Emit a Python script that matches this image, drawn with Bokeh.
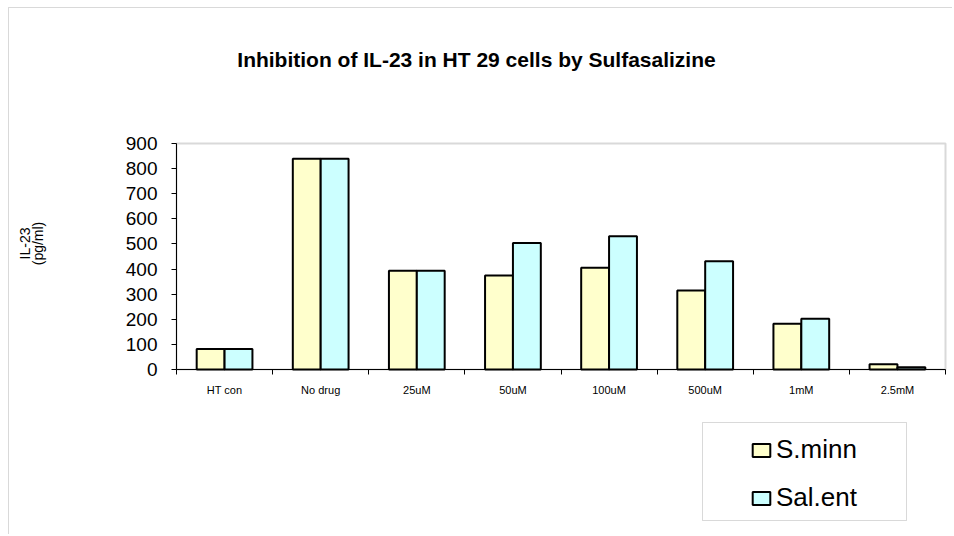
from bokeh.plotting import figure
from bokeh.models import (Range1d, FixedTicker, Legend, LegendItem,
                          Label, BoxAnnotation, ColumnDataSource)
from bokeh.transform import dodge
from bokeh.embed import file_html
from bokeh.resources import INLINE
import math

# ---- data ----
categories = ["HT con", "No drug", "25uM", "50uM", "100uM", "500uM", "1mM", "2.5mM"]
s_minn = [82, 839, 393, 374, 405, 315, 182, 21]
sal_ent = [82, 839, 393, 504, 531, 431, 202, 9]
series_names = ["S.minn", "Sal.ent"]
series_colors = ["#FFFFCC", "#CCFFFF"]
y_ticks = [0, 100, 200, 300, 400, 500, 600, 700, 800, 900]
title_text = "Inhibition of IL-23 in HT 29 cells by Sulfasalizine"
y_label_lines = ["IL-23", "(pg/ml)"]

FONT = "Liberation Sans"
n = len(categories)
y_max = 900
centers = [i + 0.5 for i in range(n)]   # category slot centres on the numeric x scale

# ---- canvas geometry (pixels) ----
W, H = 952, 534
PL, PR, PT, PB = 176, 945, 143, 369          # plot-area edges in the picture
sx = (PR - PL) / n                            # px per category slot
sy = (PB - PT) / y_max                        # px per unit
def X(px): return (px - PL) / sx
def Y(py): return (PB - py) / sy

p = figure(x_range=Range1d(X(0), X(W)), y_range=Range1d(Y(H), Y(0)),
           width=W, height=H, output_backend="svg", toolbar_location=None,
           min_border=0, border_fill_color="white", background_fill_color="white",
           outline_line_color=None)
p.grid.visible = False

# outer chart border
p.add_layout(BoxAnnotation(left=X(8), right=X(W + 20), top=Y(7), bottom=Y(H + 20),
                           fill_color=None, line_color="#808080", line_width=1, level="underlay"))
# plot-area border (grey top/right; axes cover left/bottom)
p.add_layout(BoxAnnotation(left=0, right=n, bottom=0, top=y_max,
                           fill_color=None, line_color="#808080", line_width=2, level="underlay"))

# y axis
ya = p.yaxis[0]
ya.fixed_location = 0
ya.bounds = (0, y_max)
ya.ticker = FixedTicker(ticks=y_ticks)
ya.axis_line_color = "black"
ya.major_tick_line_color = "black"
ya.major_tick_in = 0
ya.major_tick_out = 5
ya.minor_tick_line_color = None
ya.major_label_text_font = FONT
ya.major_label_text_font_size = "19px"
ya.major_label_text_color = "black"
ya.major_label_standoff = 14

# x axis: labels at slot centres, small ticks between categories
xa = p.xaxis[0]
xa.fixed_location = 0
xa.bounds = (0, n)
xa.ticker = FixedTicker(ticks=centers, minor_ticks=list(range(n + 1)))
xa.major_label_overrides = {c: lab for c, lab in zip(centers, categories)}
xa.major_tick_in = 0
xa.major_tick_out = 0
xa.minor_tick_in = 0
xa.minor_tick_out = 5
xa.axis_line_color = "black"
xa.minor_tick_line_color = "black"
xa.major_label_text_font = FONT
xa.major_label_text_font_size = "11px"
xa.major_label_text_color = "black"
xa.major_label_standoff = 9

src = ColumnDataSource(dict(x=centers, cat=categories, s=s_minn, e=sal_ent))
r1 = p.vbar(x=dodge("x", -0.145), top="s", width=0.29, source=src,
            fill_color=series_colors[0], line_color="black", line_width=2)
r2 = p.vbar(x=dodge("x", 0.145), top="e", width=0.29, source=src,
            fill_color=series_colors[1], line_color="black", line_width=2)

# title
p.add_layout(Label(x=X(476), y=Y(59), text=title_text,
                   text_align="center", text_baseline="middle", text_font=FONT,
                   text_font_style="bold", text_font_size="21px", text_color="black"))

# y axis title (two rotated lines)
for line, cx in zip(y_label_lines, [24, 37]):
    p.add_layout(Label(x=X(cx), y=Y(243), text=line, angle=math.pi / 2,
                       text_align="center", text_baseline="middle", text_font=FONT,
                       text_font_size="14px", text_color="black"))

# legend box + legend
p.add_layout(BoxAnnotation(left=X(702), right=X(906), top=Y(422), bottom=Y(520),
                           fill_color="white", fill_alpha=1, line_color="#808080", line_width=1))
legend = Legend(items=[LegendItem(label=series_names[0], renderers=[r1]),
                       LegendItem(label=series_names[1], renderers=[r2])],
                location=(750, H - 513), padding=10, spacing=17, label_height=30,
                glyph_width=22, glyph_height=16, label_standoff=4,
                label_text_font=FONT, label_text_font_size="26px", label_text_color="black",
                border_line_color=None, background_fill_alpha=0)
p.add_layout(legend, "center")

open("out.html", "w").write(file_html(p, INLINE))
